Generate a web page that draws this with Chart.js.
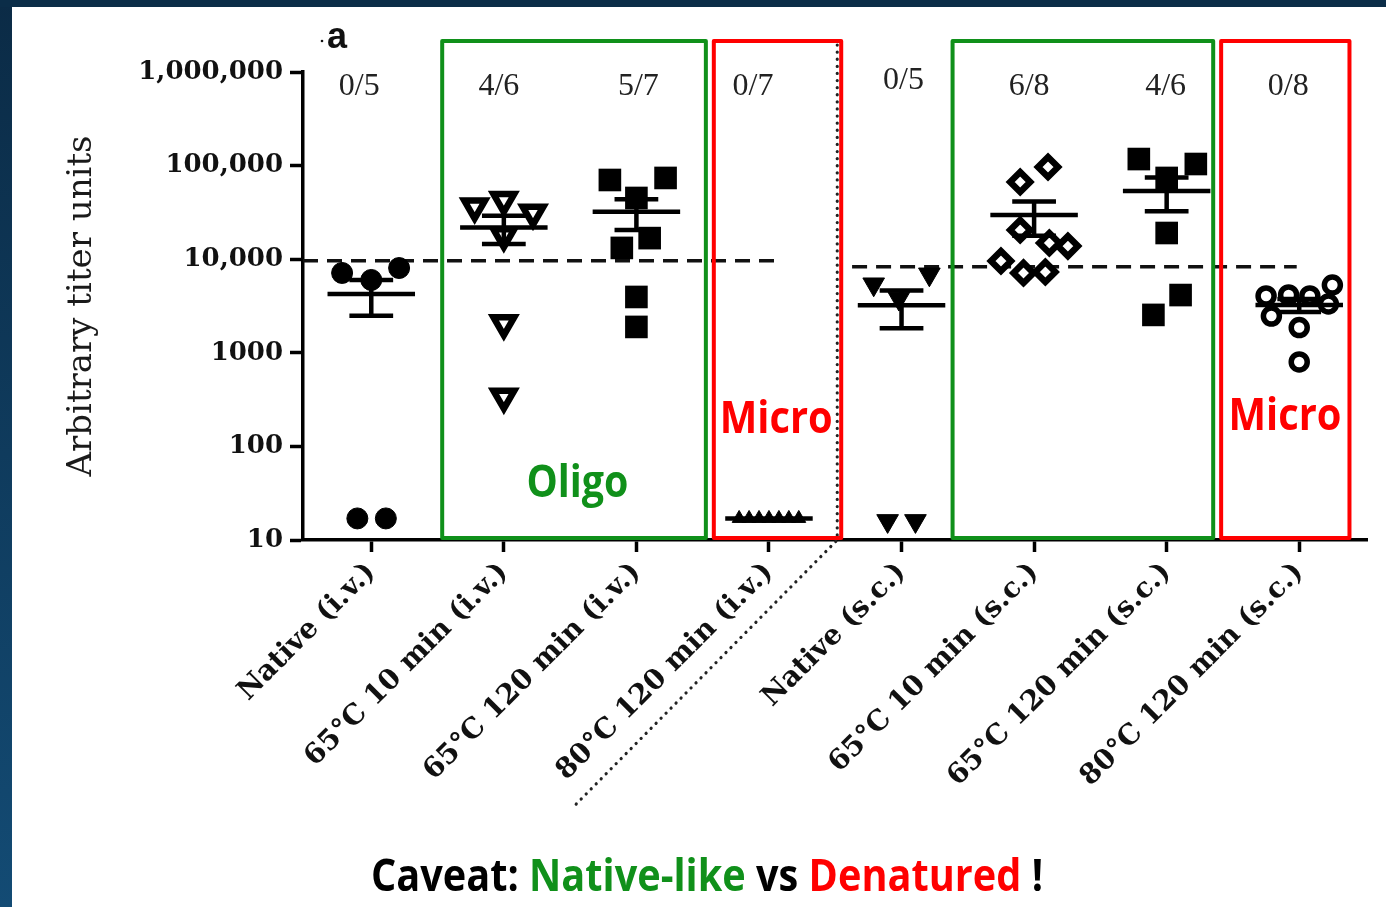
<!DOCTYPE html>
<html>
<head>
<meta charset="utf-8">
<script src="https://cdn.jsdelivr.net/npm/chart.js@4.4.1/dist/chart.umd.min.js"></script>
<style>
  html, body { margin: 0; padding: 0; background: #fff; overflow: hidden; }
  #wrap { width: 1386px; height: 907px; }
</style>
</head>
<body>
<div id="wrap"><canvas id="titerChart" width="1386" height="907"></canvas></div>
<script>
const categories = [
  "Native (i.v.)", "65°C 10 min (i.v.)", "65°C 120 min (i.v.)", "80°C 120 min (i.v.)",
  "Native (s.c.)", "65°C 10 min (s.c.)", "65°C 120 min (s.c.)", "80°C 120 min (s.c.)"
];
const yTickValues = [10, 100, 1000, 10000, 100000, 1000000];
const yTickLabels = ["10", "100", "1000", "10,000", "100,000", "1,000,000"];
const responders = ["0/5", "4/6", "5/7", "0/7", "0/5", "6/8", "4/6", "0/8"];

// titers per animal
const nativeIv = [7130, 6000, 8050, 17, 17];
const heat10Iv = [36550, 42850, 31400, 18000, 2065, 340];
const heat120Iv = [70200, 73800, 45100, 16800, 13200, 3950, 1890];
const heat80Iv = [17, 17, 17, 17, 17, 17, 17];
const nativeSc = [5400, 6900, 3800, 16, 16];
const heat10Sc = [66800, 96600, 20500, 14900, 13800, 9570, 7130, 7300];
const heat120Sc = [117500, 104000, 73800, 19050, 4140, 2540];
const heat80Sc = [4050, 4150, 4050, 5300, 3320, 2470, 1860, 798];

// sideways spread of the points inside a column (category units)
const nativeIvSpread = [-0.22, 0, 0.21, -0.105, 0.11];
const heat10IvSpread = [-0.22, 0, 0.22, 0, 0, 0];
const heat120IvSpread = [-0.2, 0.22, 0, 0.1, -0.11, 0, 0];
const heat80IvSpread = [-0.225, -0.15, -0.075, 0, 0.075, 0.15, 0.225];
const nativeScSpread = [-0.21, 0.21, -0.02, -0.105, 0.105];
const heat10ScSpread = [-0.105, 0.105, -0.105, 0.115, 0.255, -0.25, -0.08, 0.085];
const heat120ScSpread = [-0.21, 0.22, 0, 0, 0.105, -0.1];
const heat80ScSpread = [-0.25, -0.08, 0.08, 0.25, 0.22, -0.21, 0, 0];

// detection cut-offs
const cutoffIv = 9600;
const cutoffSc = 8300;

const groups = [nativeIv, heat10Iv, heat120Iv, heat80Iv, nativeSc, heat10Sc, heat120Sc, heat80Sc];
const spreads = [nativeIvSpread, heat10IvSpread, heat120IvSpread, heat80IvSpread,
  nativeScSpread, heat10ScSpread, heat120ScSpread, heat80ScSpread];

const markers = [
  { pointStyle: "circle", radius: 10.5, bg: "#000", bw: 1 },
  { pointStyle: "triangle", rotation: 180, radius: 12, bg: "#fff", bw: 6.5 },
  { pointStyle: "rect", radius: 16, bg: "#000", bw: 0 },
  { pointStyle: "triangle", radius: 8, bg: "#000", bw: 1 },
  { pointStyle: "triangle", rotation: 180, radius: 12.5, bg: "#000", bw: 1 },
  { pointStyle: "rectRot", radius: 10, bg: "#fff", bw: 6.5 },
  { pointStyle: "rect", radius: 16, bg: "#000", bw: 0 },
  { pointStyle: "circle", radius: 8, bg: "#fff", bw: 5.5 }
];

const GREEN = "#10901a";
const RED = "#ff0000";

const datasets = groups.map((vals, g) => ({
  label: categories[g],
  data: vals.map((v, i) => ({ x: g + spreads[g][i], y: v })),
  pointStyle: markers[g].pointStyle,
  pointRadius: markers[g].radius,
  pointRotation: markers[g].rotation || 0,
  pointBackgroundColor: markers[g].bg,
  pointBorderColor: "#000",
  pointBorderWidth: markers[g].bw,
  clip: false,
  order: 0
}));

datasets.push({
  type: "line", label: "cut-off i.v.",
  data: [{ x: -0.515, y: cutoffIv }, { x: 3.064, y: cutoffIv }],
  borderColor: "#111", borderWidth: 3.5, borderDash: [15, 9], pointRadius: 0, order: 1
});
datasets.push({
  type: "line", label: "cut-off s.c.",
  data: [{ x: 3.627, y: cutoffSc }, { x: 6.981, y: cutoffSc }],
  borderColor: "#111", borderWidth: 3.5, borderDash: [15, 9], pointRadius: 0, order: 1
});

function meanSem(vals) {
  const n = vals.length;
  const m = vals.reduce((a, b) => a + b, 0) / n;
  const sd = Math.sqrt(vals.reduce((a, v) => a + (v - m) * (v - m), 0) / (n - 1));
  const sem = sd / Math.sqrt(n);
  return { m, lo: Math.max(m - sem, 10), hi: m + sem };
}

// mean +/- SEM bars
const errorBars = {
  id: "errorBars",
  afterDatasetsDraw(chart) {
    const { ctx, scales: { x, y } } = chart;
    ctx.save();
    ctx.strokeStyle = "#000";
    ctx.lineWidth = 4.5;
    groups.forEach((vals, g) => {
      const s = meanSem(vals);
      const ym = y.getPixelForValue(s.m), yl = y.getPixelForValue(s.lo), yh = y.getPixelForValue(s.hi);
      ctx.beginPath();
      ctx.moveTo(x.getPixelForValue(g - 0.33), ym);
      ctx.lineTo(x.getPixelForValue(g + 0.33), ym);
      if (yl - yh > 1) {
        ctx.moveTo(x.getPixelForValue(g), yl);
        ctx.lineTo(x.getPixelForValue(g), yh);
        ctx.moveTo(x.getPixelForValue(g - 0.165), yl);
        ctx.lineTo(x.getPixelForValue(g + 0.165), yl);
        ctx.moveTo(x.getPixelForValue(g - 0.165), yh);
        ctx.lineTo(x.getPixelForValue(g + 0.165), yh);
      }
      ctx.stroke();
    });
    ctx.restore();
  }
};

function fitText(ctx, text, cx, baseline, width, font, color) {
  ctx.save();
  ctx.font = font;
  const w = ctx.measureText(text).width;
  ctx.translate(cx - width / 2, baseline);
  ctx.scale(width / w, 1);
  ctx.fillStyle = color;
  ctx.textAlign = "left";
  ctx.textBaseline = "alphabetic";
  ctx.fillText(text, 0, 0);
  ctx.restore();
}

const background = {
  id: "background",
  beforeDraw(chart) {
    const { ctx, width, height } = chart;
    ctx.save();
    ctx.fillStyle = "#fff";
    ctx.fillRect(0, 0, width, height);
    const grad = ctx.createLinearGradient(0, 0, 0, height);
    grad.addColorStop(0, "#0b2b46");
    grad.addColorStop(1, "#134b74");
    ctx.fillStyle = grad;
    ctx.fillRect(0, 0, 12, height);
    ctx.fillStyle = "#0b2d48";
    ctx.fillRect(0, 0, width, 7);
    ctx.restore();
  }
};

const annotations = {
  id: "annotations",
  afterDraw(chart) {
    const { ctx, scales: { x, y } } = chart;
    const top = 41, bottom = 538;
    ctx.save();

    // dotted separator between i.v. and s.c.
    const sx = x.getPixelForValue(3.515);
    ctx.strokeStyle = "#222";
    ctx.lineWidth = 3.2;
    ctx.lineCap = "round";
    ctx.setLineDash([0.1, 7]);
    ctx.beginPath();
    ctx.moveTo(sx, 45);
    ctx.lineTo(sx, y.bottom);
    ctx.lineTo(sx - 262, y.bottom + 265);
    ctx.stroke();
    ctx.setLineDash([]);

    // boxes
    const boxes = [[0.535, 2.524, GREEN], [2.584, 3.545, RED], [4.385, 6.351, GREEN], [6.411, 7.379, RED]];
    ctx.lineWidth = 4;
    ctx.lineJoin = "round";
    boxes.forEach(([a, b, c]) => {
      ctx.strokeStyle = c;
      const x1 = x.getPixelForValue(a), x2 = x.getPixelForValue(b);
      ctx.strokeRect(x1, top, x2 - x1, bottom - top);
    });

    // responder counts
    const nudge = [-12, -5, 2, -16, 2, -5, -1, -11];
    ctx.font = "32px 'Liberation Serif'";
    ctx.fillStyle = "#222";
    ctx.textAlign = "center";
    ctx.textBaseline = "middle";
    responders.forEach((t, i) => ctx.fillText(t, x.getPixelForValue(i) + nudge[i], i === 4 ? 81 : 87));

    // group notes
    fitText(ctx, "Oligo", x.getPixelForValue(1.555), 497, 102, "bold 44px 'Open Sans'", GREEN);
    fitText(ctx, "Micro", x.getPixelForValue(3.055), 433, 113, "bold 44px 'Open Sans'", RED);
    fitText(ctx, "Micro", x.getPixelForValue(6.893), 430, 113, "bold 44px 'Open Sans'", RED);

    // panel letter
    ctx.fillStyle = "#111";
    ctx.font = "bold 36px 'Liberation Sans'";
    ctx.textAlign = "left";
    ctx.textBaseline = "alphabetic";
    ctx.fillText("a", 327, 48);
    ctx.beginPath();
    ctx.arc(322, 41, 1.3, 0, Math.PI * 2);
    ctx.fill();

    // caption
    const parts = [["Caveat: ", "#000"], ["Native-like", GREEN], [" vs ", "#000"], ["Denatured", RED], [" !", "#000"]];
    ctx.font = "bold 44px 'Open Sans'";
    const total = parts.reduce((a, p) => a + ctx.measureText(p[0]).width, 0);
    ctx.translate(371, 891);
    ctx.scale(672 / total, 1);
    let cx = 0;
    parts.forEach(([t, c]) => {
      ctx.fillStyle = c;
      ctx.fillText(t, cx, 0);
      cx += ctx.measureText(t).width;
    });
    ctx.restore();
  }
};

new Chart(document.getElementById("titerChart"), {
  type: "scatter",
  data: { datasets },
  options: {
    responsive: false,
    devicePixelRatio: 1,
    animation: false,
    events: [],
    layout: { padding: { left: 12, top: 72, right: 13, bottom: 0 } },
    plugins: { legend: { display: false }, tooltip: { enabled: false } },
    scales: {
      x: {
        type: "linear",
        min: -0.515,
        max: 7.515,
        bounds: "data",
        afterBuildTicks: s => { s.ticks = categories.map((c, i) => ({ value: i })); },
        afterFit: s => { s.height = 367; },
        ticks: {
          callback: v => categories[v],
          autoSkip: false,
          minRotation: 45,
          maxRotation: 45,
          padding: 4,
          color: "#111",
          font: { family: "'DejaVu Serif'", size: 28, weight: "bold" }
        },
        grid: { drawOnChartArea: false, tickLength: 12, tickWidth: 3.5, tickColor: "#000" },
        border: { color: "#000", width: 3.5 }
      },
      y: {
        type: "logarithmic",
        min: 10,
        max: 1000000,
        afterBuildTicks: s => { s.ticks = yTickValues.map(v => ({ value: v })); },
        afterFit: s => { s.width = 291; },
        ticks: {
          callback: v => yTickLabels[yTickValues.indexOf(v)],
          autoSkip: false,
          padding: 7,
          color: "#111",
          font: { family: "'DejaVu Serif'", size: 26, weight: "bold" }
        },
        grid: { drawOnChartArea: false, tickLength: 13, tickWidth: 3.5, tickColor: "#000" },
        border: { color: "#000", width: 3.5 },
        title: {
          display: true,
          text: "Arbitrary titer units",
          color: "#1a1a1a",
          font: { family: "'DejaVu Serif'", size: 34 },
          padding: { top: 50, bottom: 0 }
        }
      }
    }
  },
  plugins: [background, errorBars, annotations]
});
</script>
</body>
</html>
